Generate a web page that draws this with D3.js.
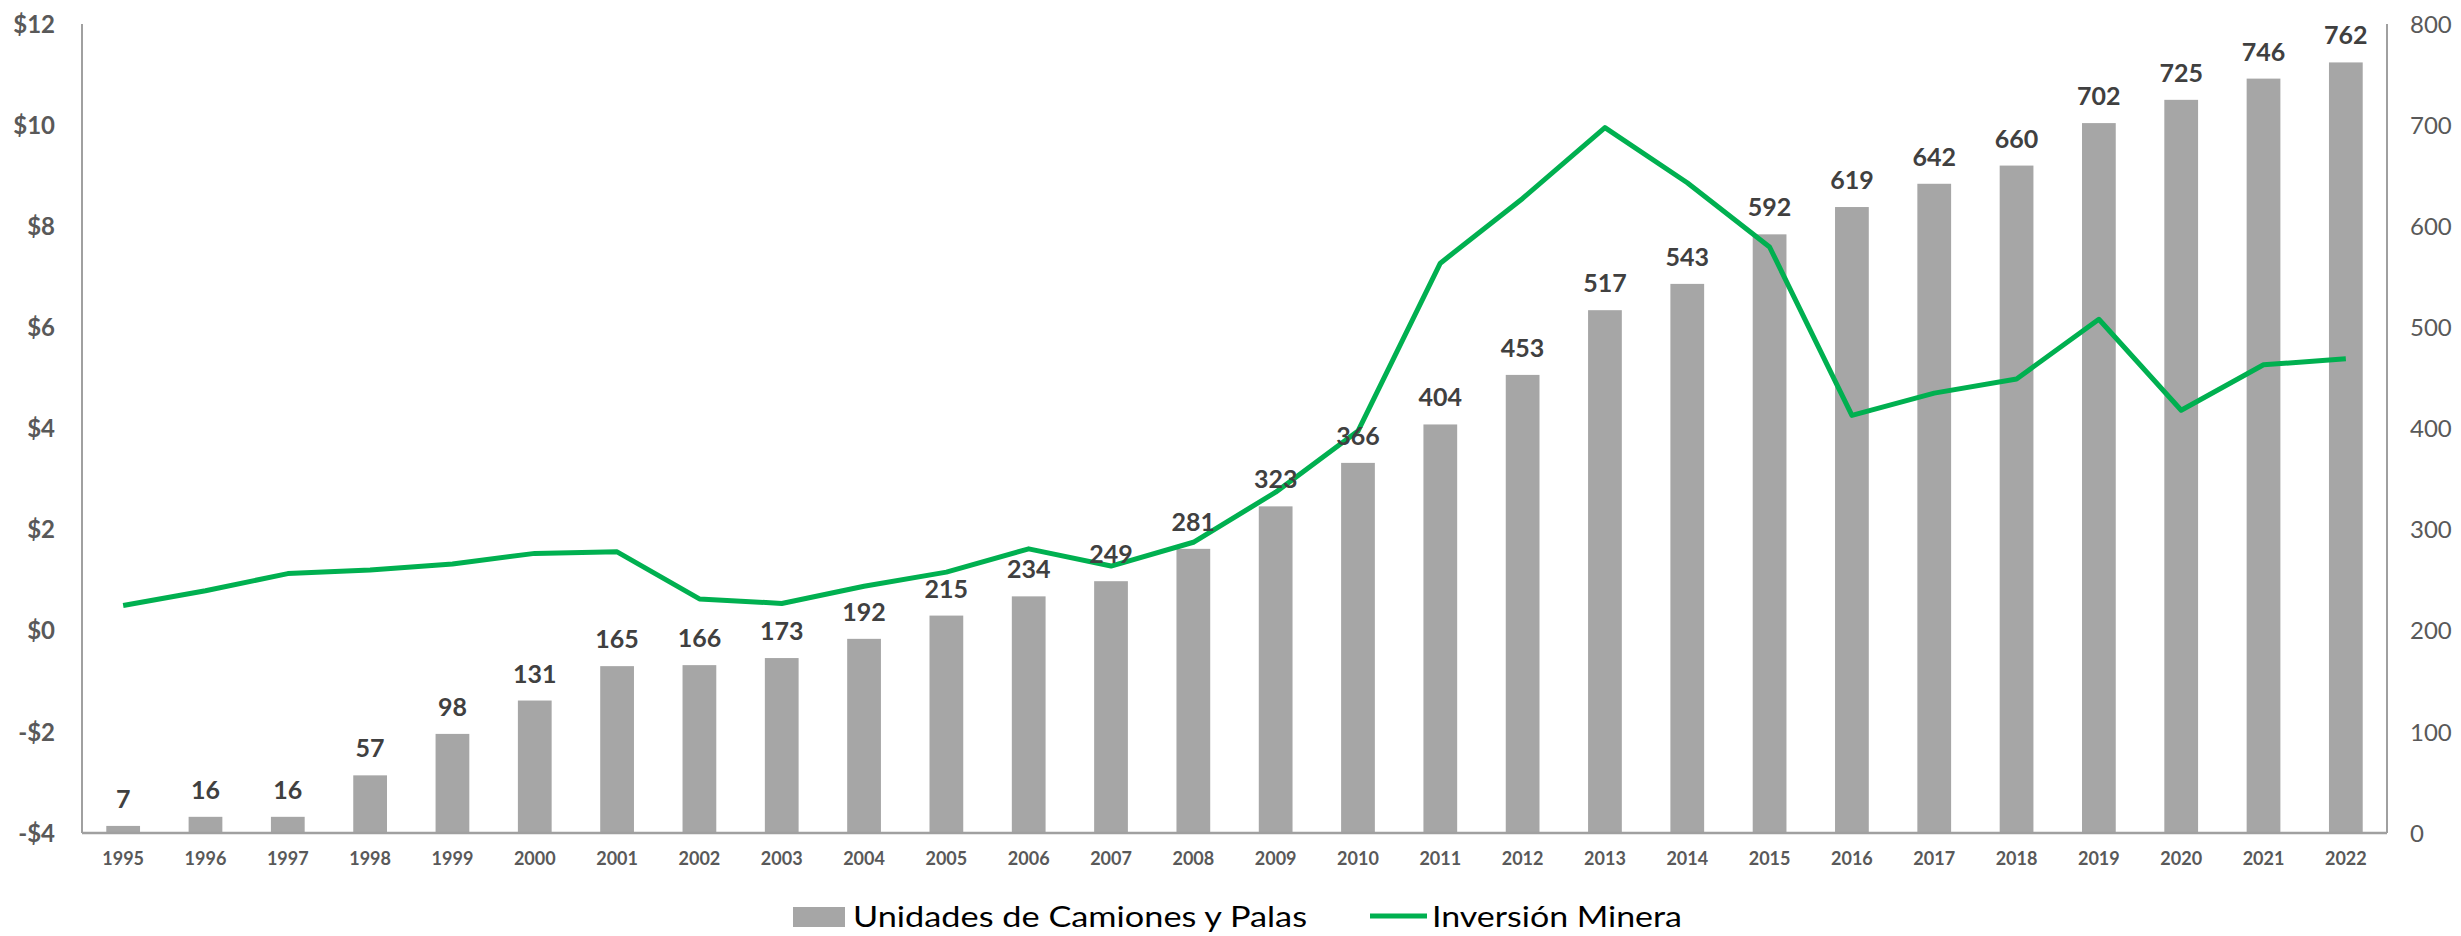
<!DOCTYPE html>
<html>
<head>
<meta charset="utf-8">
<script src="https://cdn.jsdelivr.net/npm/d3@7"></script>
<style>
  html, body { margin: 0; padding: 0; background: #fff; }
  svg { display: block; font-family: Lato, "Open Sans", sans-serif; }
</style>
</head>
<body>
<svg id="chart" width="2461" height="936"></svg>
<script>
// years on the category axis
const years = ["1995","1996","1997","1998","1999","2000","2001","2002","2003","2004",
  "2005","2006","2007","2008","2009","2010","2011","2012","2013","2014",
  "2015","2016","2017","2018","2019","2020","2021","2022"];

// bars: trucks and shovels (right axis)
const unidades = [7,16,16,57,98,131,165,166,173,192,215,234,249,281,323,366,
  404,453,517,543,592,619,642,660,702,725,746,762];

// line: mining investment, billions (left axis)
const inversion = [0.50,0.79,1.13,1.20,1.32,1.53,1.56,0.63,0.54,0.88,1.16,1.62,1.28,1.75,
  2.74,3.95,7.27,8.55,9.95,8.86,7.59,4.26,4.70,4.98,6.16,4.36,5.26,5.38];

const leftTicks = [-4,-2,0,2,4,6,8,10,12];
const rightTicks = [0,100,200,300,400,500,600,700,800];
const seriesNames = ["Unidades de Camiones y Palas", "Inversión Minera"];

const svg = d3.select("#chart");
const plotLeft = 82, plotRight = 2387, plotTop = 24, plotBottom = 833;

const x = d3.scaleBand().domain(years).range([plotLeft, plotRight])
  .paddingInner(0.59).paddingOuter(0.295);
const yL = d3.scaleLinear().domain([-4, 12]).range([plotBottom, plotTop]);
const yR = d3.scaleLinear().domain([0, 800]).range([plotBottom, plotTop]);

//bars
svg.append("g").selectAll("rect").data(unidades).enter().append("rect")
  .attr("x", (d, i) => x(years[i]))
  .attr("y", d => yR(d))
  .attr("width", x.bandwidth())
  .attr("height", d => plotBottom - yR(d))
  .attr("fill", "#a6a6a6");

//axes lines
const axisCol = "#a0a0a0";
svg.append("line").attr("x1", plotLeft).attr("x2", plotLeft).attr("y1", plotTop).attr("y2", plotBottom)
  .attr("stroke", axisCol).attr("stroke-width", 2);
svg.append("line").attr("x1", plotRight).attr("x2", plotRight).attr("y1", plotTop).attr("y2", plotBottom)
  .attr("stroke", axisCol).attr("stroke-width", 2);
svg.append("line").attr("x1", plotLeft).attr("x2", plotRight).attr("y1", plotBottom).attr("y2", plotBottom)
  .attr("stroke", axisCol).attr("stroke-width", 2.5);

//line
const line = d3.line()
  .x((d, i) => x(years[i]) + x.bandwidth() / 2)
  .y(d => yL(d));
svg.append("path").datum(inversion)
  .attr("d", line)
  .attr("fill", "none")
  .attr("stroke", "#00b050")
  .attr("stroke-width", 5)
  .attr("stroke-linejoin", "round");

//data labels
svg.append("g").selectAll("text").data(unidades).enter().append("text")
  .attr("x", (d, i) => x(years[i]) + x.bandwidth() / 2)
  .attr("y", d => yR(d) - 18)
  .attr("text-anchor", "middle")
  .attr("font-size", 25)
  .attr("font-weight", "bold")
  .attr("fill", "#404040")
  .text(d => d);

//left axis labels
svg.append("g").selectAll("text").data(leftTicks).enter().append("text")
  .attr("x", 55)
  .attr("y", d => yL(d))
  .attr("dy", "0.36em")
  .attr("text-anchor", "end")
  .attr("font-size", 24)
  .attr("font-weight", "bold")
  .attr("fill", "#595959")
  .text(d => (d < 0 ? "-$" + Math.abs(d) : "$" + d));

//right axis labels
svg.append("g").selectAll("text").data(rightTicks).enter().append("text")
  .attr("x", 2410)
  .attr("y", d => yR(d))
  .attr("dy", "0.36em")
  .attr("font-size", 24)
  .attr("fill", "#595959")
  .text(d => d);

//x labels
svg.append("g").selectAll("text").data(years).enter().append("text")
  .attr("x", d => x(d) + x.bandwidth() / 2)
  .attr("y", 865)
  .attr("text-anchor", "middle")
  .attr("font-size", 18)
  .attr("font-weight", "bold")
  .attr("fill", "#595959")
  .text(d => d);

//legend
const lg = svg.append("g");
lg.append("rect").attr("x", 793).attr("y", 907).attr("width", 52).attr("height", 20).attr("fill", "#a6a6a6");
lg.append("text").attr("x", 853).attr("y", 927).attr("font-size", 29).attr("fill", "#000")
  .attr("textLength", 454).attr("lengthAdjust", "spacingAndGlyphs").text(seriesNames[0]);
lg.append("line").attr("x1", 1370).attr("x2", 1427).attr("y1", 916).attr("y2", 916)
  .attr("stroke", "#00b050").attr("stroke-width", 5);
lg.append("text").attr("x", 1432).attr("y", 927).attr("font-size", 29).attr("fill", "#000")
  .attr("textLength", 250).attr("lengthAdjust", "spacingAndGlyphs").text(seriesNames[1]);
</script>
</body>
</html>
